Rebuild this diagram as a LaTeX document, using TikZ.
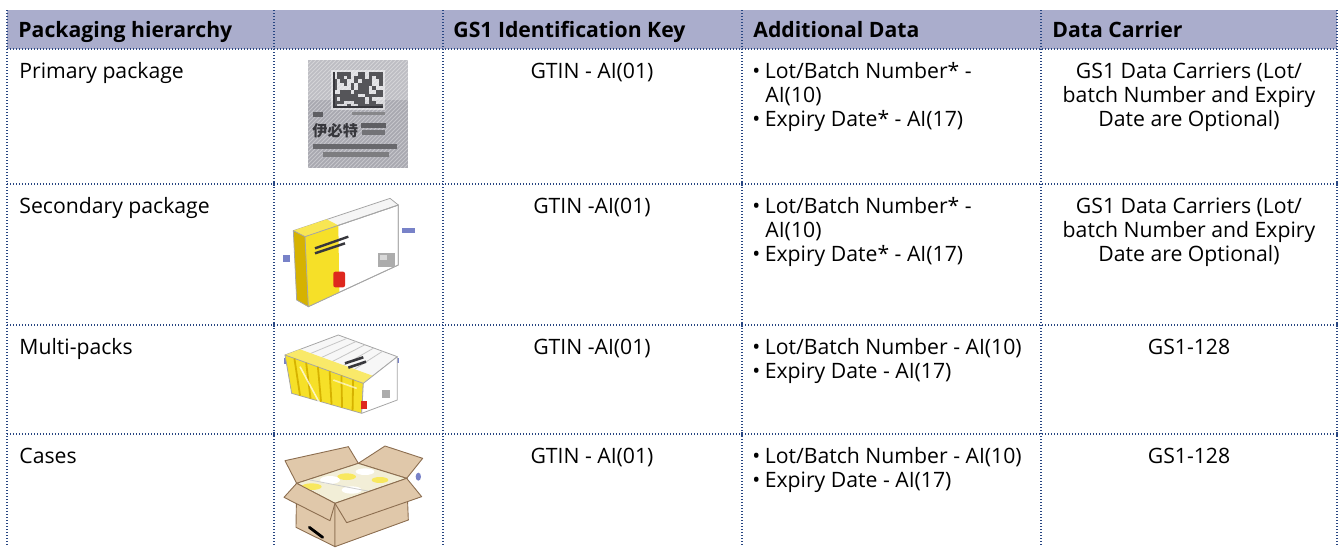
\documentclass[tikz,border=0pt]{standalone}
\usepackage{fontspec}
\usetikzlibrary{calc}
\setmainfont{Open Sans}
\newfontfamily\cjkfont{Noto Sans CJK SC}
\definecolor{headbg}{RGB}{170,173,204}
\definecolor{gridc}{RGB}{40,70,130}
\definecolor{ylw}{RGB}{246,224,40}
\definecolor{dylw}{RGB}{214,178,0}
\definecolor{tan}{RGB}{224,200,170}
\definecolor{tanline}{RGB}{140,110,80}
\definecolor{primg}{RGB}{168,168,176}
\definecolor{dmc}{RGB}{55,55,60}
\definecolor{bluebit}{RGB}{120,130,200}
\definecolor{redbit}{RGB}{222,40,30}
\newcommand\myBody{\fontsize{10.6}{12}\selectfont}
\newcommand\myHead{\fontsize{10.6}{12}\selectfont\bfseries}
\tikzset{
  gridline/.style={draw=gridc, line width=0.6pt, dash pattern=on 0.5pt off 1pt},
  cellL/.style={anchor=base west, inner sep=0pt, font=\myBody},
  cellC/.style={anchor=base, inner sep=0pt, font=\myBody},
  headT/.style={anchor=base west, inner sep=0pt, font=\myHead},
  outl/.style={draw=gray!70, line width=0.4pt, line join=round},
  cbox/.style={fill=tan, draw=tanline, line width=0.45pt, line join=round},
}
\newcommand\bul{\hbox to 6.2pt{\textbullet\hss}}
\begin{document}
\begin{tikzpicture}[x=0.5pt, y=-0.5pt]
\useasboundingbox (0,0) rectangle (1340,547);
% header band
\fill[headbg] (7,10) rectangle (1337,49);
% grid
\foreach \gx in {7,274,443,742,1041,1337}
  \draw[gridline] (\gx,10) -- (\gx,547);
\foreach \gy in {49,184,325,434}
  \draw[gridline] (7,\gy) -- (1337,\gy);
\foreach \gy in {184,325,434}
  \foreach \gx in {274,742,1337}
    \fill[gridc] (\gx-1.3,\gy-2) rectangle (\gx+1.3,\gy+2);

% header texts
\node[headT] (h1) at (18,37.5) {Packaging hierarchy};
\node[headT] (h2) at (453,37.5) {GS1 Identification Key};
\node[headT] (h3) at (753,37.5) {Additional Data};
\node[headT] (h4) at (1052,37.5) {Data Carrier};

% row 1
\node[cellL] (r1a) at (19,78) {Primary package};
\node[cellC] (r1b) at (592,78) {GTIN - AI(01)};
\node[cellL] (r1c1) at (752,78) {\bul Lot/Batch Number* -};
\node[cellL] (r1c2) at (765,102) {AI(10)};
\node[cellL] (r1c3) at (752,126) {\bul Expiry Date* - AI(17)};
\node[cellC] (r1d1) at (1189,78) {GS1 Data Carriers (Lot/};
\node[cellC] (r1d2) at (1189,102) {batch Number and Expiry};
\node[cellC] (r1d3) at (1189,126) {Date are Optional)};

% row 2
\node[cellL] (r2a) at (19,213) {Secondary package};
\node[cellC] (r2b) at (592,213) {GTIN -AI(01)};
\node[cellL] (r2c1) at (752,213) {\bul Lot/Batch Number* -};
\node[cellL] (r2c2) at (765,237) {AI(10)};
\node[cellL] (r2c3) at (752,261) {\bul Expiry Date* - AI(17)};
\node[cellC] (r2d1) at (1189,213) {GS1 Data Carriers (Lot/};
\node[cellC] (r2d2) at (1189,237) {batch Number and Expiry};
\node[cellC] (r2d3) at (1189,261) {Date are Optional)};

% row 3
\node[cellL] (r3a) at (19,354) {Multi-packs};
\node[cellC] (r3b) at (592,354) {GTIN -AI(01)};
\node[cellL] (r3c1) at (752,354) {\bul Lot/Batch Number - AI(10)};
\node[cellL] (r3c2) at (752,378) {\bul Expiry Date - AI(17)};
\node[cellC] (r3d) at (1189,354) {GS1-128};

% row 4
\node[cellL] (r4a) at (19,463) {Cases};
\node[cellC] (r4b) at (592,463) {GTIN - AI(01)};
\node[cellL] (r4c1) at (752,463) {\bul Lot/Batch Number - AI(10)};
\node[cellL] (r4c2) at (752,487) {\bul Expiry Date - AI(17)};
\node[cellC] (r4d) at (1189,463) {GS1-128};

% ---------- primary package image ----------
\begin{scope}
  \clip (308,60) rectangle (408,168);
  \fill[primg] (308,60) rectangle (408,168);
  \fill[white, opacity=0.25] (308,60) rectangle (408,100);
  \foreach \k in {0,4,...,220}
    \draw[white, opacity=0.35, line width=0.5pt] (308+\k,60) -- (200+\k,168);
\end{scope}
\fill[white, opacity=0.5] (331,70) rectangle (385,110);
\pgfmathsetseed{11}
\foreach \i in {0,...,13}
  \foreach \j in {0,...,9} {
    \pgfmathrandominteger{\rr}{0}{2}
    \ifnum\rr>0
      \fill[dmc!85] (333+\i*3.57,72+\j*3.6) rectangle ++(3.57,3.6);
    \fi
  }
\fill[dmc] (333,72) rectangle (334.8,108);
\fill[dmc] (333,106.2) rectangle (383,108);
\fill[dmc!80] (313,112) rectangle (323,117);
\fill[dmc!60] (352,112) rectangle (385,115);
\node[inner sep=0pt, anchor=base west, text=dmc, font=\cjkfont\bfseries\fontsize{7.6}{7.6}\selectfont] (pcjk) at (312,136) {伊必特};
\fill[dmc!80] (361,123) rectangle (386,128);
\fill[dmc!70] (362,130) rectangle (385,135);
\fill[dmc!75] (313,144) rectangle (397,149);
\fill[dmc!65] (323,152) rectangle (389,157);

% ---------- secondary package image ----------
\begin{scope}[shift={(280,190)}, scale=1/3]
  \fill[bluebit] (10,195) rectangle (30,215);
  \fill[bluebit] (365,115) rectangle (405,130);
  \filldraw[outl, fill=white] (75,140) -- (355,45) -- (355,225) -- (85,350) -- cycle;
  \filldraw[outl, fill=gray!8] (40,122) -- (330,25) -- (355,45) -- (75,140) -- cycle;
  \fill[ylw!80!white] (40,122) -- (140,88) -- (175,106) -- (75,140) -- cycle;
  \fill[ylw] (75,140) -- (175,106) -- (178,307) -- (85,350) -- cycle;
  \filldraw[outl, fill=dylw] (40,122) -- (75,140) -- (85,350) -- (50,330) -- cycle;
  \draw[outl] (75,140) -- (355,45) -- (355,225) -- (85,350);
  \draw[dmc, line width=1.2pt] (105,175) -- (205,140);
  \draw[dmc, line width=1.2pt] (105,190) -- (195,160);
  \fill[redbit, rounded corners=1pt] (160,245) rectangle (195,292);
  \fill[gray!65] (295,190) rectangle (345,230);
  \fill[gray!30] (300,195) rectangle (320,210);
\end{scope}

% ---------- multi-pack image ----------
\begin{scope}[shift={(280,330)}, scale=1/3]
  \fill[bluebit] (12,85) rectangle (24,102);
  \fill[bluebit] (345,85) rectangle (356,100);
  \filldraw[outl, fill=gray!6] (15,75) -- (175,15) -- (352,80) -- (250,160) -- cycle;
  \foreach \t in {0.15,0.3,0.45,0.6,0.75}
    \draw[gray!45, line width=0.4pt] ($(15,75)!\t!(250,160)$) -- ($(175,15)!\t!(352,80)$);
  \fill[ylw!70!white] (15,75) -- (60,58) -- (280,138) -- (250,160) -- cycle;
  \filldraw[outl, fill=ylw] (15,75) -- (250,160) -- (245,250) -- (35,190) -- cycle;
  \foreach \t in {0.12,0.27,0.42,0.57,0.72,0.87}
    \draw[dylw, line width=0.9pt] ($(15,75)!\t!(250,160)$) -- ($(35,190)!\t!(245,250)$);
  \draw[white, opacity=0.7, line width=0.8pt] (60,110) -- (130,240);
  \draw[white, opacity=0.6, line width=0.8pt] (160,150) -- (230,175);
  \filldraw[outl, fill=white] (250,160) -- (352,80) -- (352,210) -- (245,250) -- cycle;
  \draw[dmc, line width=1.3pt] (195,100) -- (250,82);
  \draw[dmc, line width=1.3pt] (205,113) -- (258,95);
  \fill[redbit] (243,212) rectangle (262,238);
  \fill[gray!65] (305,180) rectangle (330,205);
\end{scope}

% ---------- case image ----------
\begin{scope}[shift={(280,440)}, scale=1/3]
  \fill[bluebit] (415,110) ellipse (8 and 12);
  % back flaps
  \filldraw[cbox] (50,130) -- (235,70) -- (205,20) -- (15,62) -- cycle;
  \filldraw[cbox] (235,70) -- (380,115) -- (428,55) -- (315,18) -- cycle;
  % body faces
  \filldraw[cbox] (50,130) -- (165,190) -- (165,320) -- (48,262) -- cycle;
  \filldraw[cbox] (165,190) -- (380,115) -- (385,240) -- (165,320) -- cycle;
  % contents
  \filldraw[draw=tanline, line width=0.45pt, fill={rgb,255:red,242;green,238;blue,215}]
     (50,130) -- (235,70) -- (380,115) -- (165,190) -- cycle;
  \fill[ylw!75!white] (95,140) ellipse (30 and 10);
  \fill[ylw!75!white] (200,110) ellipse (28 and 10);
  \fill[ylw!75!white] (300,120) ellipse (25 and 9);
  \fill[white] (150,120) ellipse (30 and 12);
  \fill[white] (255,95) ellipse (28 and 10);
  \fill[white] (215,150) ellipse (30 and 11);
  \draw[gray!40, line width=0.4pt] (90,120) -- (300,160);
  % front flaps
  \filldraw[cbox] (50,130) -- (165,190) -- (150,242) -- (12,172) -- cycle;
  \filldraw[cbox] (165,190) -- (380,115) -- (425,170) -- (200,248) -- cycle;
  \draw[black, line width=1.4pt, line cap=round] (88,262) -- (128,292);
\end{scope}
\end{tikzpicture}
\end{document}
